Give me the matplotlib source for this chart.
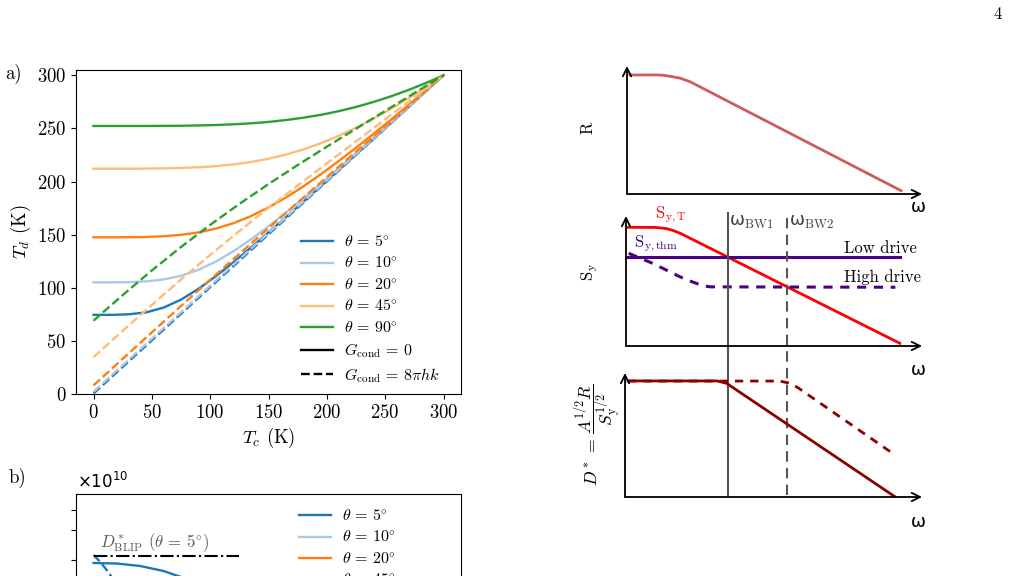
import matplotlib
matplotlib.use("Agg")
import matplotlib.pyplot as plt
from matplotlib.lines import Line2D

plt.rcParams["font.family"] = "serif"
plt.rcParams["font.serif"] = ["cmr10", "DejaVu Serif"]
plt.rcParams["mathtext.fontset"] = "cm"
plt.rcParams["axes.formatter.use_mathtext"] = True
plt.rcParams["axes.unicode_minus"] = False

# ---- panel a: detector temperature vs cold temperature ----
theta_labels = ["5", "10", "20", "45", "90"]
theta_colors = ["#1f77b4", "#aec7e8", "#ff7f0e", "#ffbb78", "#2ca02c"]

# G_cond = 0 (solid)
tc_fine = [0, 15, 30, 45, 60, 75, 90, 105, 120, 135, 150, 165, 180, 195, 210, 225, 240, 255, 270, 285, 300]
td_nocond_5 = [74.5, 74.5, 75.0, 76.8, 81.3, 88.8, 99.0, 111.0, 124.1, 137.9, 152.1, 166.5, 181.1,
               195.8, 210.6, 225.5, 240.3, 255.2, 270.1, 285.1, 300]
td_nocond_10 = [105.1, 105.1, 105.3, 106.0, 107.8, 111.3, 116.9, 124.7, 134.4, 145.6, 157.8, 170.9, 184.4,
                198.3, 212.5, 226.8, 241.3, 255.9, 270.5, 285.3, 300]
td_nocond_20 = [147.5, 147.5, 147.6, 147.8, 148.5, 149.8, 152.1, 155.7, 160.8, 167.5, 175.6, 185.0, 195.5,
                207.0, 219.1, 231.8, 244.9, 258.3, 272.0, 285.9, 300]
td_nocond_45 = [212.1, 212.1, 212.1, 212.2, 212.4, 212.8, 213.4, 214.5, 216.1, 218.4, 221.4, 225.4, 230.3,
                236.1, 242.9, 250.7, 259.2, 268.5, 278.4, 289.0, 300]
td_nocond_90 = [252.3, 252.3, 252.3, 252.3, 252.4, 252.5, 252.8, 253.2, 253.9, 254.8, 256.1, 257.9, 260.1,
                262.8, 266.2, 270.2, 274.9, 280.2, 286.2, 292.8, 300]

# G_cond = 8 pi h k (dashed)
tc = [0, 25, 50, 75, 100, 125, 150, 175, 200, 225, 250, 275, 300]
td_cond_5 = [0.5, 25.5, 50.5, 75.5, 100.5, 125.4, 150.3, 175.2, 200.2, 225.1, 250.1, 275.0, 300]
td_cond_10 = [2.1, 27.1, 52.1, 77.0, 101.9, 126.8, 151.6, 176.4, 201.1, 225.8, 250.5, 275.2, 300]
td_cond_20 = [8.1, 33.1, 58.0, 82.8, 107.5, 131.9, 156.1, 180.2, 204.2, 228.1, 252.0, 276.0, 300]
td_cond_45 = [34.7, 59.5, 83.9, 107.8, 130.9, 153.4, 175.1, 196.3, 217.2, 237.8, 258.5, 279.2, 300]
td_cond_90 = [69.0, 93.1, 116.3, 138.4, 159.2, 178.9, 197.6, 215.5, 232.8, 249.7, 266.5, 283.2, 300]

# ---- panel b: detectivity (x1e10), only the top is on the page ----
tc_b = [0, 20, 40, 60, 75, 100, 125, 150, 200, 250, 300]
dstar_nocond_5 = [2.47, 2.465, 2.44, 2.39, 2.33, 2.15, 1.85, 1.45, 0.70, 0.25, 0.0]
dstar_nocond_10 = [1.25, 1.25, 1.24, 1.22, 1.19, 1.10, 0.95, 0.75, 0.38, 0.13, 0.0]
dstar_nocond_20 = [0.64, 0.64, 0.64, 0.63, 0.62, 0.58, 0.51, 0.41, 0.22, 0.08, 0.0]
dstar_nocond_45 = [0.30, 0.30, 0.30, 0.30, 0.30, 0.29, 0.27, 0.23, 0.13, 0.05, 0.0]
dstar_nocond_90 = [0.21, 0.21, 0.21, 0.21, 0.21, 0.21, 0.20, 0.17, 0.10, 0.04, 0.0]
tc_b_cond = [0, 5, 10, 15, 25, 50, 100, 150, 200, 300]
dstar_cond_5 = [2.55, 2.49, 2.42, 2.34, 2.18, 1.80, 1.20, 0.80, 0.50, 0.0]
dstar_blip_5 = 2.54
blip_tc = [0, 125]

# ---- right: schematic curves (arbitrary units) ----
r_x = [0.1, 1.0, 1.2, 1.45, 1.8, 2.14, 9.29]
r_y = [9.3, 9.3, 9.28, 9.2, 9.05, 8.77, 0.26]
syt_x = [0.05, 1.0, 1.35, 1.6, 1.85, 9.25]
syt_y = [9.13, 9.12, 9.04, 8.88, 8.65, 0.21]
sythm_low_x = [0.05, 9.26]
sythm_low_y = [6.87, 6.87]
sythm_high_x = [0.09, 0.9, 1.8, 2.1, 2.4, 2.65, 2.85, 9.1]
sythm_high_y = [7.13, 6.36, 5.35, 5.05, 4.8, 4.62, 4.55, 4.52]
dstar_low_x = [0.1, 3.1, 3.42, 9.09]
dstar_low_y = [9.36, 9.36, 9.17, 0.02]
dstar_high_x = [0.1, 5.2, 5.5, 5.8, 9.09]
dstar_high_y = [9.35, 9.35, 9.2, 8.85, 3.39]
omega_bw1 = 3.45
omega_bw2 = 5.44

W, H = 1010, 576
fig = plt.figure(figsize=(W / 100, H / 100), dpi=100)


def rect(x0, y_top, x1, y_bot):
    return [x0 / W, 1 - y_bot / H, (x1 - x0) / W, (y_bot - y_top) / H]


def ftext(x, y, s, **kw):
    fig.text(x / W, 1 - y / H, s, **kw)


LW = 1.7
leg_kw = dict(frameon=False, fontsize=11.5, handlelength=2.0, handletextpad=0.7,
              borderpad=0, borderaxespad=0, labelspacing=0.36)

# panel a
ax_a = fig.add_axes(rect(76, 70, 461, 394))
for col, ys in zip(theta_colors, [td_nocond_5, td_nocond_10, td_nocond_20, td_nocond_45, td_nocond_90]):
    ax_a.plot(tc_fine, ys, color=col, lw=LW)
for col, ys in zip(theta_colors, [td_cond_5, td_cond_10, td_cond_20, td_cond_45, td_cond_90]):
    ax_a.plot(tc, ys, color=col, lw=LW, ls="--")
ax_a.set_xlim(-15, 315)
ax_a.set_ylim(0, 305)
ax_a.set_xticks([0, 50, 100, 150, 200, 250, 300])
ax_a.set_yticks([0, 50, 100, 150, 200, 250, 300])
ax_a.tick_params(labelsize=13.5)
ax_a.set_xlabel(r"$T_c$ (K)", fontsize=13.5, labelpad=3)
ax_a.set_ylabel(r"$T_d$ (K)", fontsize=13.5, labelpad=3)
handles = [Line2D([], [], color=c, lw=LW) for c in theta_colors]
handles += [Line2D([], [], color="black", lw=LW), Line2D([], [], color="black", lw=LW, ls="--")]
labels = [r"$\theta\,=\,%s^{\circ}$" % t for t in theta_labels]
labels += [r"$G_{\rm cond}\,=\,0$", r"$G_{\rm cond}\,=\,8\pi h k$"]
ax_a.legend(handles, labels, loc="upper left", bbox_to_anchor=(0.585, 0.493), **leg_kw)

# panel b (runs off the page)
ax_b = fig.add_axes(rect(76, 494, 461, 810))
for col, ys in zip(theta_colors, [dstar_nocond_5, dstar_nocond_10, dstar_nocond_20,
                                  dstar_nocond_45, dstar_nocond_90]):
    ax_b.plot(tc_b, [v * 1e10 for v in ys], color=col, lw=LW)
ax_b.plot(tc_b_cond, [v * 1e10 for v in dstar_cond_5], color=theta_colors[0], lw=LW, ls="--")
ax_b.plot(blip_tc, [dstar_blip_5 * 1e10] * 2, color="black", lw=1.5, ls="-.")
ax_b.set_xlim(-15, 315)
ax_b.set_ylim(0, 3.16e10)
ax_b.set_yticks([2.5e10, 2.8e10, 3.0e10])
ax_b.tick_params(labelleft=False, labelbottom=False)
ax_b.legend(handles[:5], labels[:5], loc="upper left", bbox_to_anchor=(0.58, 0.955), **leg_kw)
ftext(100, 543, r"$D^*_{\rm BLIP}$ ($\theta\,=\,5^{\circ}$)", color="0.35", fontsize=12, va="center")
ftext(77, 481, r"$\times10^{10}$", fontsize=12, va="center", math_fontfamily="dejavusans")


# right schematic
def arrow_axes(ax):
    for s in ax.spines.values():
        s.set_visible(False)
    ax.set_xticks([])
    ax.set_yticks([])
    ax.set_xlim(0, 10)
    ax.set_ylim(0, 10)
    ax.patch.set_visible(False)
    arr = dict(arrowstyle="->", lw=1.3, color="black", shrinkA=0, shrinkB=0, mutation_scale=15)
    ax.annotate("", xy=(1, 0), xytext=(0, 0), xycoords="axes fraction", arrowprops=arr)
    ax.annotate("", xy=(0, 1), xytext=(0, 0), xycoords="axes fraction", arrowprops=arr)


ax_r = fig.add_axes(rect(627, 66, 922, 194))
arrow_axes(ax_r)
ax_r.plot(r_x, r_y, color="#cd5c5c", lw=2)

ax_s = fig.add_axes(rect(626, 216, 922, 346))
arrow_axes(ax_s)
ax_s.plot(syt_x, syt_y, color="red", lw=2)
ax_s.plot(sythm_low_x, sythm_low_y, color="#4b0082", lw=2.2)
ax_s.plot(sythm_high_x, sythm_high_y, color="#4b0082", lw=2.2, ls=(0, (3, 2.5)))
ax_s.axvline(omega_bw1, ymin=-1.146, ymax=1.023, color="#555555", lw=1.5, clip_on=False)
ax_s.axvline(omega_bw2, ymin=-1.146, ymax=1.023, color="#555555", lw=1.5,
             ls=(0, (5, 3)), clip_on=False)

ax_d = fig.add_axes(rect(625, 373, 922, 497))
arrow_axes(ax_d)
ax_d.plot(dstar_low_x, dstar_low_y, color="#8b0000", lw=2)
ax_d.plot(dstar_high_x, dstar_high_y, color="#8b0000", lw=2, ls=(0, (3, 2.5)))

ftext(588, 128, "R", rotation=90, ha="center", va="center", fontsize=12)
ftext(590, 272, r"$\mathrm{S_y}$", rotation=90, ha="center", va="center", fontsize=12)
ftext(599, 435, r"$D^*\,=\,\dfrac{A^{1/2}R}{S_{\mathrm{y}}^{1/2}}$", rotation=90,
      ha="center", va="center", fontsize=12.5)
for yy in [207, 370, 522]:
    ftext(918, yy, "ω", ha="center", va="center", fontsize=13, family="DejaVu Sans")
ftext(655, 215, r"$\mathrm{S_{y,T}}$", color="red", va="center", fontsize=12)
ftext(634, 244, r"$\mathrm{S_{y,thm}}$", color="#4b0082", va="center", fontsize=12)
ftext(729, 222, r"ω$_{\mathrm{BW1}}$", color="#444444", va="center", fontsize=13, family="DejaVu Sans")
ftext(789, 222, r"ω$_{\mathrm{BW2}}$", color="#444444", va="center", fontsize=13, family="DejaVu Sans")
ftext(844, 248, "Low drive", va="center", fontsize=12)
ftext(844, 277, "High drive", va="center", fontsize=12)

ftext(5, 74, "a)", va="center", fontsize=13.5)
ftext(8, 478, "b)", va="center", fontsize=13.5)
ftext(998, 14, "4", ha="center", va="center", fontsize=12)

fig.savefig("out.png", dpi=100)
